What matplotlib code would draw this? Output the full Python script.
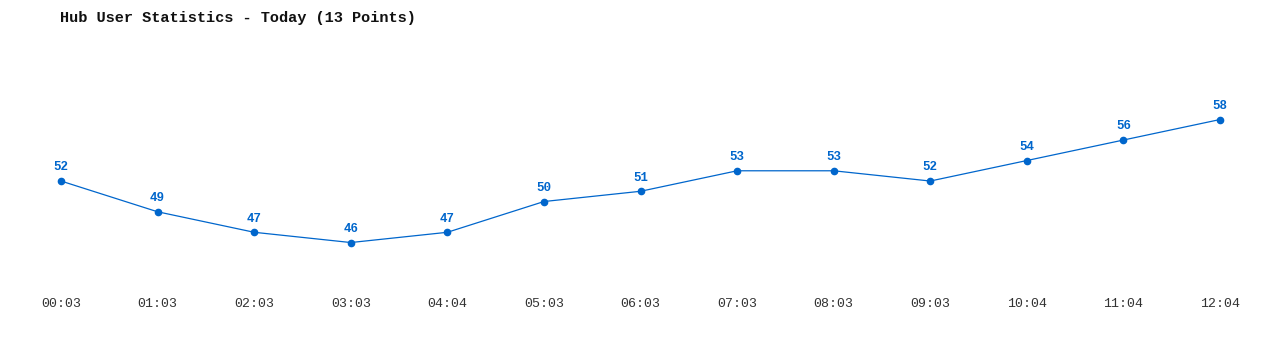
import matplotlib
matplotlib.use('Agg')
import matplotlib.pyplot as plt

times = ['00:03', '01:03', '02:03', '03:03', '04:04', '05:03', '06:03',
         '07:03', '08:03', '09:03', '10:04', '11:04', '12:04']
users = [52, 49, 47, 46, 47, 50, 51, 53, 53, 52, 54, 56, 58]

blue = '#0066cc'
mono = ['Liberation Mono', 'DejaVu Sans Mono']

fig = plt.figure(figsize=(12.8, 3.5), dpi=100)
ax = fig.add_axes([0, 60 / 350, 1, 290 / 350])

x = list(range(len(users)))
ax.plot(x, users, color=blue, linewidth=0.9, marker='o', markersize=4.5)
for i, v in zip(x, users):
    ax.annotate(str(v), (i, v), xytext=(0, 5.5), textcoords='offset points',
                ha='center', va='bottom', color=blue, fontsize=9,
                fontweight='bold', family=mono)

ax.set_xlim(-0.632, 12.621)
ax.set_ylim(41.37, 69.66)
ax.set_xticks(x)
ax.set_xticklabels(times, family=mono, fontsize=9.5, color='#333333')
ax.tick_params(axis='x', length=0, pad=6)
ax.set_yticks([])
for s in ax.spines.values():
    s.set_visible(False)

fig.text(60 / 1280, 1 - 18 / 350, 'Hub User Statistics - Today (13 Points)',
         family=mono, fontsize=11, fontweight='bold', va='center', ha='left',
         color='#111111')

plt.savefig('out.png', dpi=100)
